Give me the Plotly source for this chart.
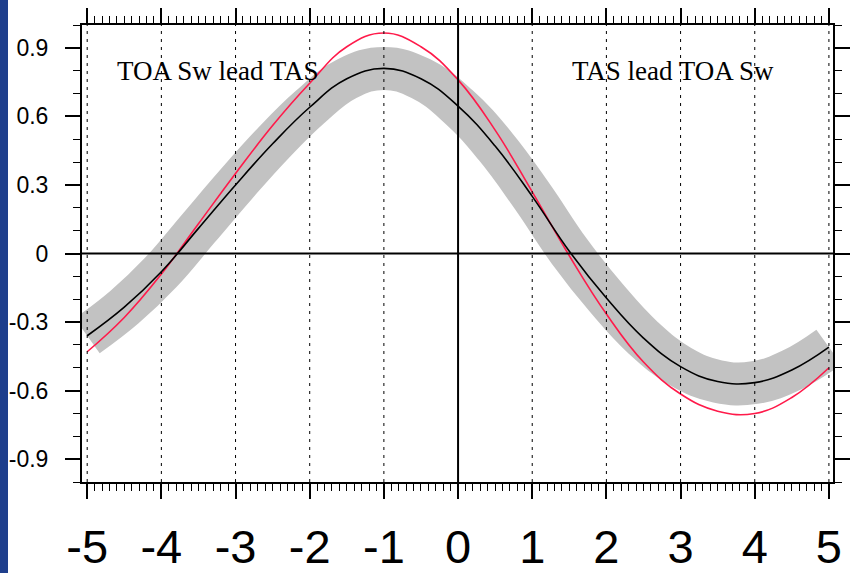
import plotly.graph_objects as go

# Lag (years); negative = TOA Sw leads TAS
lags = [-5, -4.5, -4, -3.5, -3, -2.5, -2, -1.5, -1, -0.5, 0,
        0.5, 1, 1.5, 2, 2.5, 3, 3.5, 4, 4.5, 5]
# Multi-model mean correlation (black) – grey band is its spread
mean_corr = [-0.36, -0.235, -0.08, 0.11, 0.30, 0.48, 0.64, 0.765, 0.81, 0.765, 0.645,
             0.47, 0.25, 0.01, -0.195, -0.37, -0.495, -0.56, -0.565, -0.51, -0.41]
# Observed correlation (red)
obs_corr = [-0.43, -0.28, -0.09, 0.13, 0.35, 0.56, 0.745, 0.905, 0.965, 0.905, 0.76,
            0.54, 0.27, -0.01, -0.265, -0.475, -0.615, -0.69, -0.70, -0.63, -0.50]

x_ticks = [-5, -4, -3, -2, -1, 0, 1, 2, 3, 4, 5]
y_ticks = [-0.9, -0.6, -0.3, 0, 0.3, 0.6, 0.9]
y_tick_text = ["-0.9", "-0.6", "-0.3", "0", "0.3", "0.6", "0.9"]

fig = go.Figure()
# grey spread band, drawn as a broad stroke along the mean curve
fig.add_trace(go.Scatter(x=lags, y=mean_corr, mode="lines",
                         line=dict(color="#c2c2c2", width=43, shape="spline", smoothing=1.2),
                         hoverinfo="skip", showlegend=False))
fig.add_trace(go.Scatter(x=lags, y=obs_corr, mode="lines",
                         line=dict(color="#ff1a4a", width=1.6, shape="spline", smoothing=1.2),
                         showlegend=False))
fig.add_trace(go.Scatter(x=lags, y=mean_corr, mode="lines",
                         line=dict(color="black", width=1.6, shape="spline", smoothing=1.2),
                         showlegend=False))

shapes = []
for xv in x_ticks:
    if xv == 0:
        continue
    shapes.append(dict(type="line", xref="x", yref="paper", x0=xv, x1=xv, y0=0, y1=1,
                       line=dict(color="black", width=1, dash="3px,5px"), layer="above"))
shapes.append(dict(type="line", xref="x", yref="paper", x0=0, x1=0, y0=0, y1=1,
                   line=dict(color="black", width=2), layer="above"))
shapes.append(dict(type="line", xref="paper", yref="y", x0=0, x1=1, y0=0, y1=0,
                   line=dict(color="black", width=2), layer="above"))
# blue slide edge at the far left
shapes.append(dict(type="rect", xref="paper", yref="paper",
                   x0=-82 / 751, x1=-74 / 751, y0=-100 / 457, y1=1 + 40 / 457,
                   fillcolor="#1f3f8c", line=dict(width=0), layer="above"))

fig.update_layout(
    width=850, height=573,
    margin=dict(l=82, r=17, t=25, b=91),
    paper_bgcolor="white", plot_bgcolor="white",
    shapes=shapes,
    annotations=[
        dict(x=-3.23, y=0.80, xref="x", yref="y", text="TOA Sw lead TAS", showarrow=False,
             font=dict(family="Liberation Serif, Times New Roman, serif", size=27, color="black")),
        dict(x=2.90, y=0.80, xref="x", yref="y", text="TAS lead TOA Sw", showarrow=False,
             font=dict(family="Liberation Serif, Times New Roman, serif", size=27, color="black")),
    ],
)
fig.update_xaxes(range=[-5.07, 5.055], tickmode="array", tickvals=x_ticks,
                 ticktext=[str(v) for v in x_ticks],
                 ticks="outside", ticklen=15, tickwidth=2, tickcolor="black",
                 minor=dict(dtick=0.1, tick0=0, ticks="outside", ticklen=7, tickwidth=1,
                            tickcolor="black", showgrid=False),
                 showline=True, linewidth=2, linecolor="black", mirror="allticks",
                 showgrid=False, zeroline=False, automargin=False,
                 tickfont=dict(family="Liberation Sans, Arial, sans-serif", size=47, color="black"),
                 ticklabelstandoff=8)
fig.update_yaxes(range=[-1.0, 1.0], tickmode="array", tickvals=y_ticks, ticktext=y_tick_text,
                 ticks="outside", ticklen=15, tickwidth=2, tickcolor="black",
                 minor=dict(dtick=0.1, tick0=0, ticks="outside", ticklen=7, tickwidth=1,
                            tickcolor="black", showgrid=False),
                 showline=True, linewidth=2, linecolor="black", mirror="allticks",
                 showgrid=False, zeroline=False, automargin=False,
                 tickfont=dict(family="Liberation Sans, Arial, sans-serif", size=23, color="black"),
                 ticklabelstandoff=12)

fig.write_html("out.html")
